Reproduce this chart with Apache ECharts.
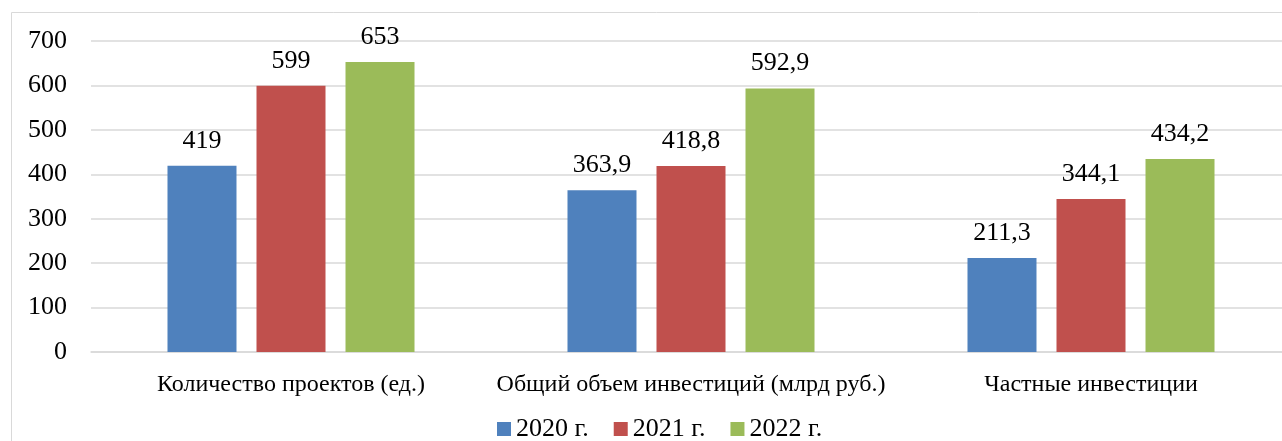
<!DOCTYPE html>
<html>
<head>
<meta charset="utf-8">
<script src="https://cdn.jsdelivr.net/npm/echarts@6/dist/echarts.min.js"></script>
<style>
  html, body { margin: 0; padding: 0; background: #fff; overflow: hidden; }
  #chart { width: 1300px; height: 441px; }
</style>
</head>
<body>
<div id="chart"></div>
<script>
var categories = ["Количество проектов (ед.)", "Общий объем инвестиций (млрд руб.)", "Частные инвестиции"];
var years = ["2020 г.", "2021 г.", "2022 г."];
var v2020 = [419, 363.9, 211.3];
var v2021 = [599, 418.8, 344.1];
var v2022 = [653, 592.9, 434.2];
var colors = ["#4F81BD", "#C0504D", "#9BBB59"];

var FONT = "'Liberation Serif', 'Times New Roman', serif";

var dom = document.getElementById("chart");
var myChart = echarts.init(dom, null, { renderer: "canvas" });

function fmt(p) {
  return String(p.value).replace(".", ",");
}

function makeSeries(name, data, color) {
  return {
    name: name,
    type: "bar",
    data: data,
    barWidth: 69,
    barGap: "29%",
    itemStyle: { color: color },
    label: {
      show: true,
      position: "top",
      distance: 12,
      formatter: fmt,
      color: "#000",
      fontFamily: FONT,
      fontSize: 26,
    },
  };
}

var option = {
  animation: false,
  textStyle: { fontFamily: FONT },
  graphic: [
    {
      type: "rect",
      shape: { x: 11.5, y: 12.5, width: 1320, height: 450 },
      style: { fill: "none", stroke: "#d9d9d9", lineWidth: 1 },
      silent: true,
    },
  ],
  legend: {
    data: years,
    top: 411,
    left: 492,
    itemWidth: 14,
    itemHeight: 14,
    itemGap: 25,
    icon: "rect",
    textStyle: { fontFamily: FONT, fontSize: 26, color: "#000" },
  },
  grid: {
    left: 91,
    right: 9,
    top: 41,
    bottom: 89,
    containLabel: false,
  },
  xAxis: {
    type: "category",
    data: categories,
    axisLine: { show: true, lineStyle: { color: "#d9d9d9", width: 1.5 } },
    axisTick: { show: false },
    axisLabel: {
      interval: 0,
      color: "#000",
      fontFamily: FONT,
      fontSize: 24,
      margin: 21,
    },
  },
  yAxis: {
    type: "value",
    min: 0,
    max: 700,
    interval: 100,
    axisLine: { show: false },
    axisTick: { show: false },
    splitLine: { lineStyle: { color: "#d9d9d9", width: 1.5 } },
    axisLabel: {
      color: "#000",
      fontFamily: FONT,
      fontSize: 26,
      margin: 24,
    },
  },
  series: [
    makeSeries(years[0], v2020, colors[0]),
    makeSeries(years[1], v2021, colors[1]),
    makeSeries(years[2], v2022, colors[2]),
  ],
};

myChart.setOption(option);
window.addEventListener("resize", myChart.resize);
</script>
</body>
</html>
